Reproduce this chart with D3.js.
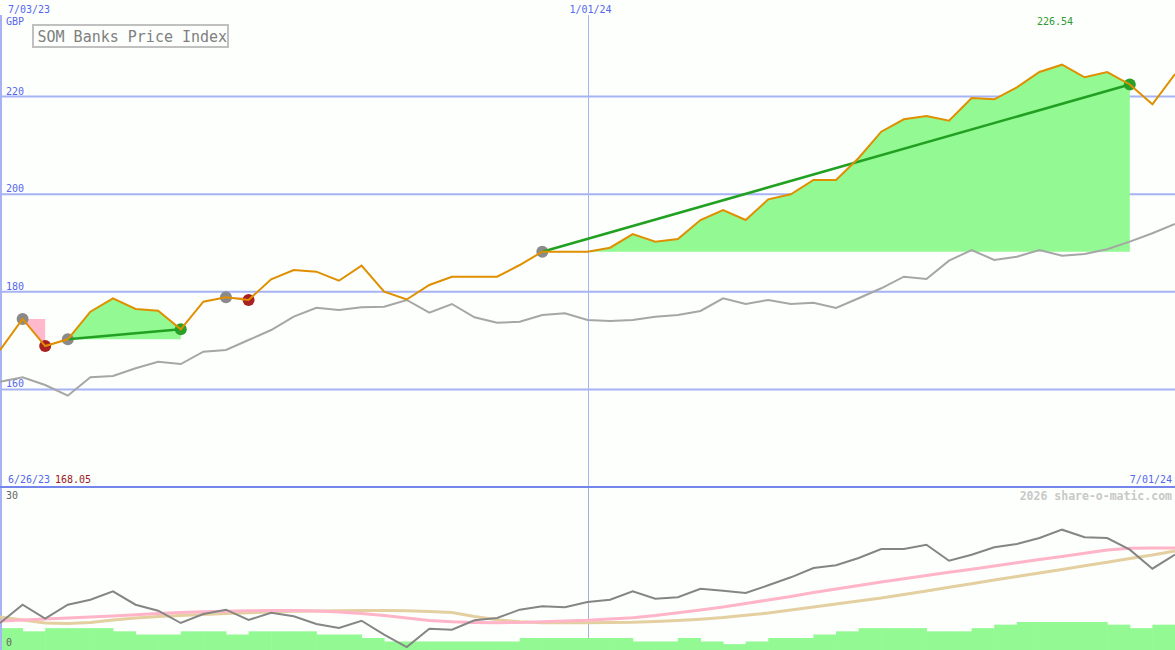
<!DOCTYPE html>
<html>
<head>
<meta charset="utf-8">
<script src="https://cdn.jsdelivr.net/npm/d3@7/dist/d3.min.js"></script>
<style>
  html, body { margin: 0; padding: 0; background: #fcfffc; }
  svg { display: block; }
  text { font-family: "DejaVu Sans Mono", "Liberation Mono", monospace; }
</style>
</head>
<body>
<svg id="chart" width="1175" height="650"></svg>
<script>
// ---------------- DATA ----------------
const dates = [
  "2023-07-03","2023-07-10","2023-07-17","2023-07-24","2023-07-31","2023-08-07","2023-08-14","2023-08-21","2023-08-28",
  "2023-09-04","2023-09-11","2023-09-18","2023-09-25","2023-10-02","2023-10-09","2023-10-16","2023-10-23","2023-10-30",
  "2023-11-06","2023-11-13","2023-11-20","2023-11-27","2023-12-04","2023-12-11","2023-12-18","2023-12-25",
  "2024-01-01","2024-01-08","2024-01-15","2024-01-22","2024-01-29","2024-02-05","2024-02-12","2024-02-19","2024-02-26",
  "2024-03-04","2024-03-11","2024-03-18","2024-03-25","2024-04-01","2024-04-08","2024-04-15","2024-04-22","2024-04-29",
  "2024-05-06","2024-05-13","2024-05-20","2024-05-27","2024-06-03","2024-06-10","2024-06-17","2024-06-24","2024-07-01"
];

// SOM Banks Price Index (GBP)
const price = [
  168.05,174.43,168.89,170.27,175.92,178.67,176.48,176.13,172.32,177.97,178.87,178.32,182.56,184.47,184.12,182.27,185.35,180.02,
  178.42,181.39,183.09,183.09,183.09,185.49,188.22,188.22,188.22,189.04,191.84,190.27,190.82,194.71,196.76,194.71,198.95,199.98,
  202.91,202.91,207.42,212.81,215.35,216.02,215.06,219.71,219.45,221.91,225.04,226.54,223.96,225.04,222.48,218.42,224.63
];

// comparison index (grey line)
const benchmark = [
  161.58,162.48,160.90,158.71,162.48,162.75,164.32,165.68,165.20,167.73,168.07,170.12,172.17,174.90,176.74,176.27,176.82,176.95,
  178.32,175.72,177.50,174.77,173.67,173.87,175.25,175.59,174.22,174.02,174.22,174.90,175.25,176.07,178.67,177.50,178.32,177.50,
  177.77,176.68,178.67,180.72,183.09,182.62,186.37,188.57,186.52,187.19,188.57,187.40,187.75,188.71,190.27,191.99,193.89
];

// lower panel indicator (dark grey) and its two averages (pink, tan)
const indicator = [
  5.06,8.49,5.87,8.49,9.43,11.01,8.49,7.37,5.06,6.75,7.56,5.63,6.99,6.32,4.88,4.13,5.49,2.87,0.56,3.99,3.81,5.57,6.00,7.56,8.19,8.01,
  9.00,9.43,11.01,9.62,9.88,11.49,11.12,10.69,12.13,13.63,15.38,15.88,17.25,18.94,18.94,19.74,16.74,17.87,19.26,19.88,21.00,22.56,
  21.13,21.00,18.81,15.24,17.87
];
const avgFast = [
  5.44,5.63,5.81,6.00,6.19,6.38,6.62,6.84,7.03,7.18,7.28,7.35,7.39,7.39,7.31,7.13,6.84,6.47,6.00,5.53,5.29,5.16,5.12,5.16,5.29,5.44,
  5.57,5.81,6.06,6.47,6.98,7.50,8.06,8.72,9.38,10.03,10.78,11.44,12.09,12.75,13.37,13.97,14.57,15.15,15.75,16.35,16.95,17.55,
  18.15,18.75,19.07,19.13,19.13
];
const avgSlow = [
  6.19,5.63,5.06,4.97,5.16,5.63,6.00,6.28,6.47,6.66,6.84,6.98,7.13,7.26,7.31,7.37,7.39,7.39,7.35,7.22,7.03,6.28,5.68,5.29,5.12,5.10,
  5.10,5.14,5.19,5.34,5.53,5.78,6.09,6.51,6.94,7.50,8.06,8.63,9.19,9.75,10.41,11.06,11.76,12.43,13.13,13.78,14.44,15.09,15.79,
  16.46,17.16,17.81,18.56
];
// weekly bars in lower panel (one per week interval)
const bars = [
  4.1,3.5,4.1,4.1,4.1,3.5,2.9,2.9,3.5,3.5,2.9,3.5,3.5,3.5,2.9,2.9,2.25,1.6,1.6,1.6,1.6,1.6,1.6,2.25,2.25,2.25,2.25,2.25,1.6,1.6,
  2.25,1.6,1.1,1.6,2.25,2.25,2.9,3.5,4.1,4.1,4.1,3.5,3.5,4.1,4.75,5.25,5.25,5.25,5.25,4.75,4.1,4.75
];

// trades: entry / exit week index
const tradeEntry = [1, 3, 10, 24];
const tradeExit  = [2, 8, 11, 50];

const priceTicks = [160, 180, 200, 220];
const dateTicks = ["2023-07-03", "2024-01-01"];
const dateTickLabels = ["7/03/23", "1/01/24"];
const lowerTicks = [0, 30];

// ---------------- CHART ----------------
const W = 1175, H = 650;
const parse = d3.utcParse("%Y-%m-%d");
const D = dates.map(parse);
const svg = d3.select("#chart");

const x = d3.scaleUtc().domain([parse("2023-07-03"), parse("2024-07-01")]).range([0, W]);
const y = d3.scaleLinear().domain([140, 240]).range([487, -1]);
const yL = d3.scaleLinear().domain([0, 30]).range([650, 490]);

const gridBlue = "#a7b3f4";
const labelBlue = "#5767ee";

svg.append("rect").attr("width", W).attr("height", H).attr("fill", "#fcfffc");

// lower panel bars
svg.append("g").selectAll("rect").data(bars).join("rect")
  .attr("x", (d, i) => x(D[i]))
  .attr("width", (d, i) => x(D[i + 1]) - x(D[i]) + 0.5)
  .attr("y", d => yL(d))
  .attr("height", d => 650 - yL(d))
  .attr("fill", "#93f993");

// horizontal grid
const grid = svg.append("g");
grid.selectAll("line").data(priceTicks).join("line")
  .attr("x1", 0).attr("x2", W)
  .attr("y1", d => y(d)).attr("y2", d => y(d))
  .attr("stroke", gridBlue).attr("stroke-width", 2);

// vertical date grid
dateTicks.forEach((t, k) => {
  const xv = x(parse(t));
  svg.append("line")
    .attr("x1", k === 0 ? xv + 1 : Math.round(xv) + 0.5)
    .attr("x2", k === 0 ? xv + 1 : Math.round(xv) + 0.5)
    .attr("y1", 15).attr("y2", k === 0 ? 650 : 487)
    .attr("stroke", gridBlue).attr("stroke-width", k === 0 ? 2 : 1);
  if (k > 0) {
    svg.append("line")
      .attr("x1", Math.round(xv) + 0.5).attr("x2", Math.round(xv) + 0.5)
      .attr("y1", 487).attr("y2", yL(bars[Math.min(k * 26, bars.length - 1)]))
      .attr("stroke", "#a8aed8").attr("stroke-width", 1);
  }
  svg.append("text")
    .attr("x", k === 0 ? 8 : xv - 18).attr("y", 13)
    .attr("font-size", 10).attr("fill", labelBlue)
    .text(dateTickLabels[k]);
});

// separator
svg.append("line").attr("x1", 0).attr("x2", W).attr("y1", 487).attr("y2", 487)
  .attr("stroke", "#7485ec").attr("stroke-width", 2);

// tick labels
grid.selectAll("text").data(priceTicks).join("text")
  .attr("x", 6).attr("y", d => y(d) - 2)
  .attr("font-size", 10).attr("fill", labelBlue)
  .text(d => d);
svg.append("text").attr("x", 6).attr("y", 25).attr("font-size", 10).attr("fill", labelBlue).text("GBP");

// trade fills
const gFill = svg.append("g");
tradeEntry.forEach((e, k) => {
  const xEnd = tradeExit[k];
  const idx = d3.range(e, xEnd + 1);
  const base = price[e];
  const gain = price[xEnd] >= base;
  const area = d3.area()
    .x(i => x(D[i]))
    .y0(() => y(base))
    .y1(i => y(price[i]));
  gFill.append("path").datum(idx).attr("d", area)
    .attr("fill", gain ? "#93f993" : "#ffb8cc");
});

// benchmark line
const line = d3.line().x((d, i) => x(D[i])).y(d => y(d));
svg.append("path").datum(benchmark).attr("d", line)
  .attr("fill", "none").attr("stroke", "#a6a6a6").attr("stroke-width", 2);

// markers
const gM = svg.append("g");
tradeEntry.forEach((e, k) => {
  const xEnd = tradeExit[k];
  const gain = price[xEnd] >= price[e];
  gM.append("circle").attr("cx", x(D[e])).attr("cy", y(price[e])).attr("r", 6).attr("fill", "#8a8a8a");
  gM.append("circle").attr("cx", x(D[xEnd])).attr("cy", y(price[xEnd])).attr("r", 6)
    .attr("fill", gain ? "#2aa02a" : "#a82020");
  if (gain) {
    gM.append("line")
      .attr("x1", x(D[e])).attr("y1", y(price[e]))
      .attr("x2", x(D[xEnd])).attr("y2", y(price[xEnd]))
      .attr("stroke", "#22a022").attr("stroke-width", 2.5);
  }
});

// price line
svg.append("path").datum(price).attr("d", line)
  .attr("fill", "none").attr("stroke", "#df8f00").attr("stroke-width", 2);

// lower panel lines
const lineL = d3.line().x((d, i) => x(D[i])).y(d => yL(d));
svg.append("path").datum(avgSlow).attr("d", lineL)
  .attr("fill", "none").attr("stroke", "#e4cfa0").attr("stroke-width", 3);
svg.append("path").datum(avgFast).attr("d", lineL)
  .attr("fill", "none").attr("stroke", "#ffb4c8").attr("stroke-width", 3);
svg.append("path").datum(indicator).attr("d", lineL)
  .attr("fill", "none").attr("stroke", "#858585").attr("stroke-width", 2);

// lower tick labels
svg.append("text").attr("x", 6).attr("y", 499).attr("font-size", 10).attr("fill", "#666").text(lowerTicks[1]);
svg.append("text").attr("x", 6).attr("y", 646).attr("font-size", 10).attr("fill", "#666").text(lowerTicks[0]);

// title box
svg.append("rect").attr("x", 33).attr("y", 25).attr("width", 195).attr("height", 22)
  .attr("fill", "#fcfffc").attr("stroke", "#c0c0c0").attr("stroke-width", 2);
svg.append("text").attr("x", 37.5).attr("y", 41.5).attr("font-size", 15).attr("fill", "#808080")
  .text("SOM Banks Price Index");

// annotations
const maxIdx = d3.maxIndex(price);
svg.append("text").attr("x", 1037).attr("y", 25).attr("font-size", 10).attr("fill", "#2f9a2f")
  .text(d3.format(".2f")(price[maxIdx]));
svg.append("text").attr("x", 8).attr("y", 483).attr("font-size", 10).attr("fill", labelBlue).text("6/26/23");
svg.append("text").attr("x", 55).attr("y", 483).attr("font-size", 10).attr("fill", "#a01818")
  .text(d3.format(".2f")(price[0]));
svg.append("text").attr("x", 1172).attr("y", 483).attr("text-anchor", "end").attr("font-size", 10)
  .attr("fill", labelBlue).text("7/01/24");
svg.append("text").attr("x", 1172).attr("y", 500).attr("text-anchor", "end").attr("font-size", 11.5)
  .attr("font-weight", "bold").attr("fill", "#c8c8c8").text("2026 share-o-matic.com");
</script>
</body>
</html>
